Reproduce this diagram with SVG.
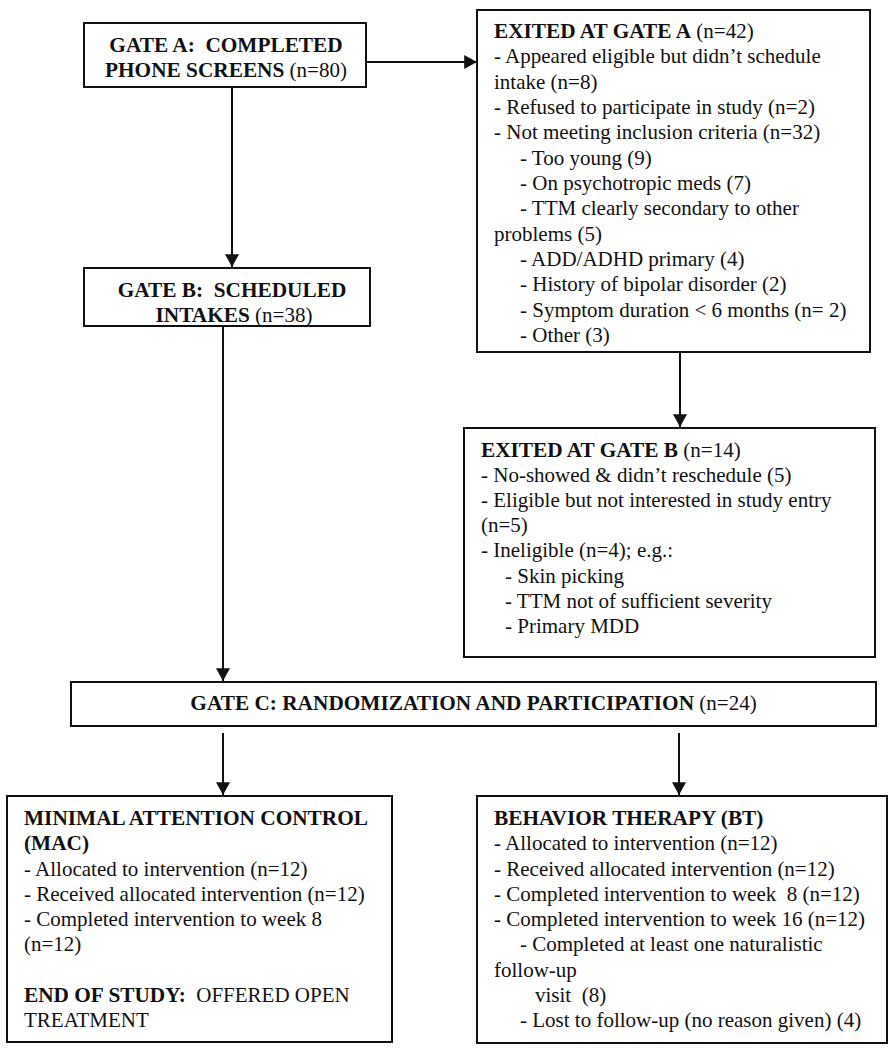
<svg xmlns="http://www.w3.org/2000/svg" width="892" height="1050" viewBox="0 0 892 1050">
<style>
.box{fill:#fff;stroke:#111;stroke-width:2}
.t{font-family:"Liberation Serif","Times New Roman",serif;font-size:21px;fill:#111}
.c{text-anchor:middle}
.b{font-weight:bold;font-size:21.3px}
.conn line{stroke:#111;stroke-width:2;marker-end:url(#arr)}
</style>
<defs>
<marker id="arr" markerUnits="userSpaceOnUse" markerWidth="14" markerHeight="14" viewBox="0 0 12 12" refX="11" refY="6" orient="auto">
<path d="M0,0 L11,6 L0,12 Z" fill="#111"/>
</marker>
</defs>
<rect width="892" height="1050" fill="#fff"/>
<g class="conn" id="connectors">
<line x1="366" y1="62" x2="477" y2="62"/>
<line x1="232" y1="87" x2="232" y2="267"/>
<line x1="680" y1="353" x2="680" y2="427"/>
<line x1="223" y1="326" x2="223" y2="681"/>
<line x1="223" y1="733" x2="223" y2="795"/>
<line x1="679" y1="733" x2="679" y2="795"/>
</g>
<g id="gateA">
<rect class="box" x="84" y="23" width="282" height="64"/>
<text class="t c" x="226" y="52"><tspan class="b">GATE A:&#160; COMPLETED</tspan></text>
<text class="t c" x="226" y="77"><tspan class="b">PHONE SCREENS</tspan> (n=80)</text>
</g>
<g id="exitedA">
<rect class="box" x="477" y="10" width="393" height="342"/>
<text class="t" x="494" y="38"><tspan class="b">EXITED AT GATE A</tspan> (n=42)</text>
<text class="t" x="494" y="63">- Appeared eligible but didn’t schedule</text>
<text class="t" x="494" y="89">intake (n=8)</text>
<text class="t" x="494" y="114">- Refused to participate in study (n=2)</text>
<text class="t" x="494" y="139">- Not meeting inclusion criteria (n=32)</text>
<text class="t" x="520" y="165">- Too young (9)</text>
<text class="t" x="520" y="190">- On psychotropic meds (7)</text>
<text class="t" x="520" y="215">- TTM clearly secondary to other</text>
<text class="t" x="494" y="241">problems (5)</text>
<text class="t" x="520" y="266">- ADD/ADHD primary (4)</text>
<text class="t" x="520" y="291">- History of bipolar disorder (2)</text>
<text class="t" x="520" y="317">- Symptom duration &lt; 6 months (n= 2)</text>
<text class="t" x="520" y="342">- Other (3)</text>
</g>
<g id="gateB">
<rect class="box" x="84" y="268" width="286" height="58"/>
<text class="t c" x="232" y="297"><tspan class="b">GATE B:&#160; SCHEDULED</tspan></text>
<text class="t c" x="234" y="322"><tspan class="b">INTAKES</tspan> (n=38)</text>
</g>
<g id="exitedB">
<rect class="box" x="464" y="428" width="411" height="229"/>
<text class="t" x="481" y="457"><tspan class="b">EXITED AT GATE B</tspan> (n=14)</text>
<text class="t" x="481" y="482">- No-showed &amp; didn’t reschedule (5)</text>
<text class="t" x="481" y="507">- Eligible but not interested in study entry</text>
<text class="t" x="481" y="532">(n=5)</text>
<text class="t" x="481" y="557">- Ineligible (n=4); e.g.:</text>
<text class="t" x="505" y="583">- Skin picking</text>
<text class="t" x="505" y="608">- TTM not of sufficient severity</text>
<text class="t" x="505" y="633">- Primary MDD</text>
</g>
<g id="gateC">
<rect class="box" x="71" y="682" width="805" height="44"/>
<text class="t c" x="473.5" y="710"><tspan class="b">GATE C: RANDOMIZATION AND PARTICIPATION</tspan> (n=24)</text>
</g>
<g id="mac">
<rect class="box" x="7" y="796" width="385" height="246"/>
<text class="t b" x="24" y="825">MINIMAL ATTENTION CONTROL</text>
<text class="t b" x="24" y="850">(MAC)</text>
<text class="t" x="24" y="876">- Allocated to intervention (n=12)</text>
<text class="t" x="24" y="901">- Received allocated intervention (n=12)</text>
<text class="t" x="24" y="926">- Completed intervention to week 8</text>
<text class="t" x="24" y="951">(n=12)</text>
<text class="t" x="24" y="1002"><tspan class="b">END OF STUDY:</tspan>&#160; OFFERED OPEN</text>
<text class="t" x="24" y="1027">TREATMENT</text>
</g>
<g id="bt">
<rect class="box" x="477" y="796" width="410" height="247"/>
<text class="t b" x="494" y="825">BEHAVIOR THERAPY (BT)</text>
<text class="t" x="494" y="850">- Allocated to intervention (n=12)</text>
<text class="t" x="494" y="876">- Received allocated intervention (n=12)</text>
<text class="t" x="494" y="901">- Completed intervention to week&#160; 8 (n=12)</text>
<text class="t" x="494" y="926">- Completed intervention to week 16 (n=12)</text>
<text class="t" x="520" y="951">- Completed at least one naturalistic</text>
<text class="t" x="494" y="977">follow-up</text>
<text class="t" x="535" y="1002">visit&#160; (8)</text>
<text class="t" x="520" y="1027">- Lost to follow-up (no reason given) (4)</text>
</g>
</svg>
